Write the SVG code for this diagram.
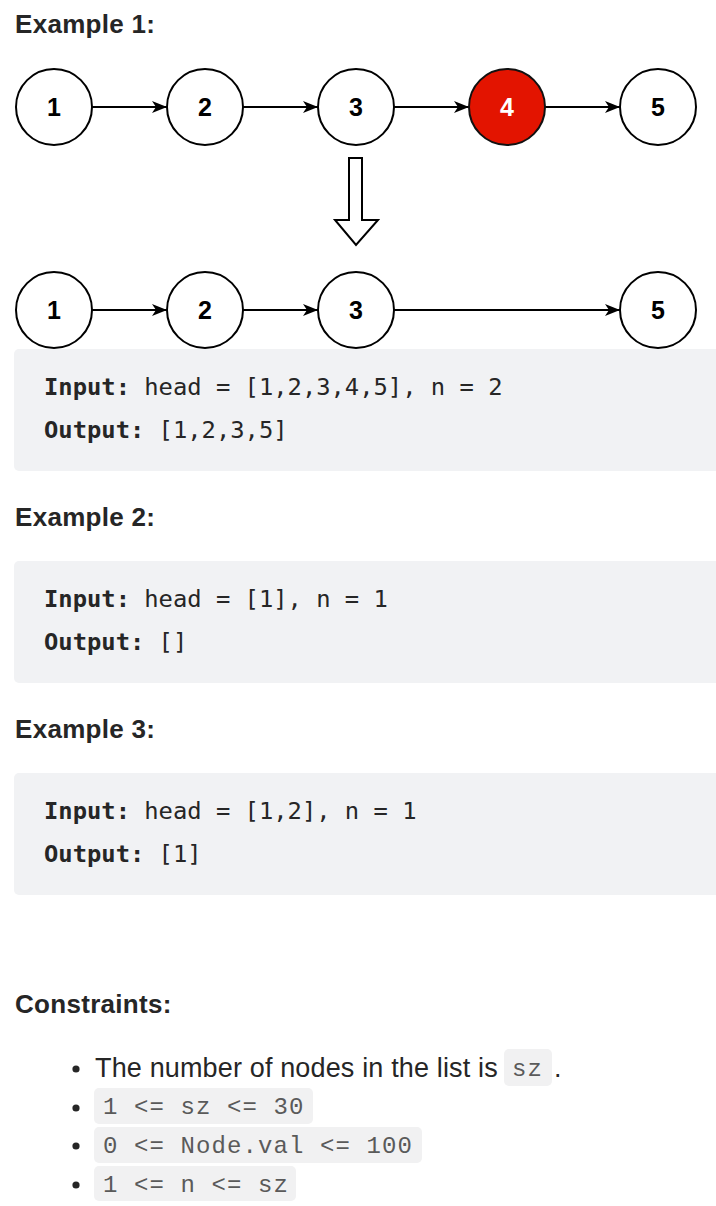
<svg xmlns="http://www.w3.org/2000/svg" width="716" height="1206" viewBox="0 0 716 1206">
<defs>
<style>
.h{font-family:"Liberation Sans",Arial,sans-serif;font-weight:bold;font-size:26px;letter-spacing:0.3px;fill:#262626}
.node{fill:#fff;stroke:#000;stroke-width:2}
.red{fill:#e31400;stroke:#111;stroke-width:2}
.lbl{font-family:"Liberation Sans",Arial,sans-serif;font-weight:bold;font-size:25px;fill:#000;text-anchor:middle}
.lblw{font-family:"Liberation Sans",Arial,sans-serif;font-weight:bold;font-size:25px;fill:#fff;text-anchor:middle}
.edge{stroke:#000;stroke-width:1.9;fill:none;marker-end:url(#ah)}
.block{fill:#f1f2f4}
.code{font-family:"DejaVu Sans Mono","Liberation Mono",monospace;font-size:23.8px;fill:#262626}
.code tspan.b{font-weight:bold}
.body{font-family:"Liberation Sans",Arial,sans-serif;font-size:27px;letter-spacing:0.15px;fill:#262626}
.ic{fill:#f1f1f2}
.icode{font-family:"Liberation Mono",monospace;font-size:24px;letter-spacing:1.1px;fill:#5a5a5a}
.dot{fill:#262626}
</style>
<marker id="ah" markerUnits="userSpaceOnUse" viewBox="0 0 15 12" markerWidth="15" markerHeight="12" refX="15" refY="6" orient="auto">
<path d="M0,0 L15,6 L0,12 L4,6 z" fill="#000"/>
</marker>
</defs>
<rect width="716" height="1206" fill="#fff"/>

<text class="h" x="15" y="33">Example 1:</text>

<g id="connectors">
<line class="edge" x1="92" y1="107" x2="167" y2="107"/>
<line class="edge" x1="243" y1="107" x2="318" y2="107"/>
<line class="edge" x1="394" y1="107" x2="469" y2="107"/>
<line class="edge" x1="545" y1="107" x2="620" y2="107"/>
<line class="edge" x1="92" y1="310" x2="167" y2="310"/>
<line class="edge" x1="243" y1="310" x2="318" y2="310"/>
<line class="edge" x1="394" y1="310" x2="620" y2="310"/>
</g>

<g id="t1"><circle class="node" cx="54" cy="107" r="38"/><text class="lbl" x="54" y="116">1</text></g>
<g id="t2"><circle class="node" cx="205" cy="107" r="38"/><text class="lbl" x="205" y="116">2</text></g>
<g id="t3"><circle class="node" cx="356" cy="107" r="38"/><text class="lbl" x="356" y="116">3</text></g>
<g id="t4"><circle class="red" cx="507" cy="107" r="38"/><text class="lblw" x="507" y="116">4</text></g>
<g id="t5"><circle class="node" cx="658" cy="107" r="38"/><text class="lbl" x="658" y="116">5</text></g>

<g id="downarrow"><polygon points="349,158 362,158 362,220 378,220 356,245 335,220 349,220" fill="#fff" stroke="#000" stroke-width="2" stroke-linejoin="miter"/></g>

<g id="b1"><circle class="node" cx="54" cy="310" r="38"/><text class="lbl" x="54" y="319">1</text></g>
<g id="b2"><circle class="node" cx="205" cy="310" r="38"/><text class="lbl" x="205" y="319">2</text></g>
<g id="b3"><circle class="node" cx="356" cy="310" r="38"/><text class="lbl" x="356" y="319">3</text></g>
<g id="b5"><circle class="node" cx="658" cy="310" r="38"/><text class="lbl" x="658" y="319">5</text></g>

<g id="code1">
<rect class="block" x="14" y="349" width="720" height="122" rx="5"/>
<text class="code" x="44" y="395"><tspan class="b">Input:</tspan> head = [1,2,3,4,5], n = 2</text>
<text class="code" x="44" y="438"><tspan class="b">Output:</tspan> [1,2,3,5]</text>
</g>

<text class="h" x="15" y="526">Example 2:</text>
<g id="code2">
<rect class="block" x="14" y="561" width="720" height="122" rx="5"/>
<text class="code" x="44" y="607"><tspan class="b">Input:</tspan> head = [1], n = 1</text>
<text class="code" x="44" y="650"><tspan class="b">Output:</tspan> []</text>
</g>

<text class="h" x="15" y="738">Example 3:</text>
<g id="code3">
<rect class="block" x="14" y="773" width="720" height="122" rx="5"/>
<text class="code" x="44" y="819"><tspan class="b">Input:</tspan> head = [1,2], n = 1</text>
<text class="code" x="44" y="862"><tspan class="b">Output:</tspan> [1]</text>
</g>

<text class="h" x="15" y="1013">Constraints:</text>

<g id="constraints">
<circle class="dot" cx="76" cy="1069" r="3.6"/>
<text class="body" x="95" y="1077">The number of nodes in the list is</text>
<rect class="ic" x="504" y="1049" width="48" height="37" rx="5"/>
<text class="icode" x="512" y="1076">sz</text>
<text class="body" x="554" y="1077">.</text>

<circle class="dot" cx="76" cy="1108" r="3.6"/>
<rect class="ic" x="94" y="1088" width="219" height="36" rx="5"/>
<text class="icode" x="103" y="1114">1 &lt;= sz &lt;= 30</text>

<circle class="dot" cx="76" cy="1146" r="3.6"/>
<rect class="ic" x="94" y="1127" width="328" height="36" rx="5"/>
<text class="icode" x="103" y="1153">0 &lt;= Node.val &lt;= 100</text>

<circle class="dot" cx="76" cy="1185" r="3.6"/>
<rect class="ic" x="94" y="1166" width="202" height="35" rx="5"/>
<text class="icode" x="103" y="1192">1 &lt;= n &lt;= sz</text>
</g>
</svg>
